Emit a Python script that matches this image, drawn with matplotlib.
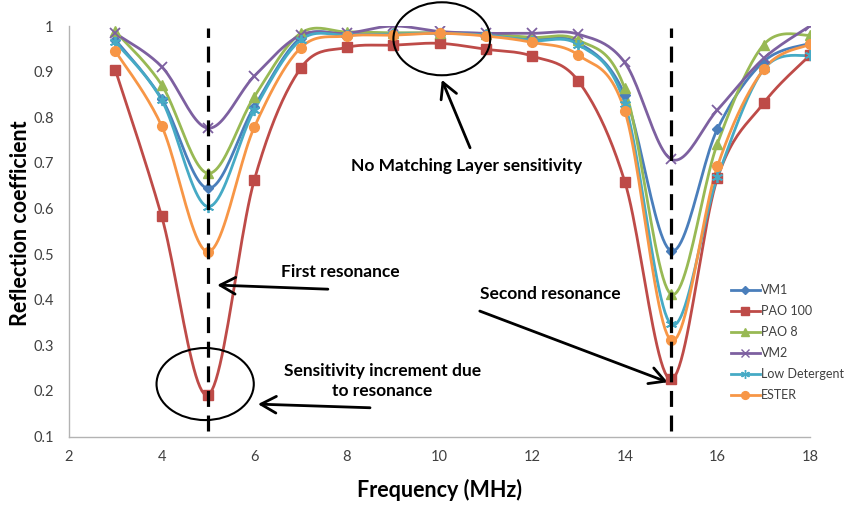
import numpy as np
import matplotlib
matplotlib.use("Agg")
import matplotlib.pyplot as plt
from matplotlib.lines import Line2D
from matplotlib.patches import Ellipse

plt.rcParams['font.family'] = ['Lato', 'DejaVu Sans']

# Measured reflection coefficient vs. frequency for each lubricant
freq_mhz = [3, 4, 5, 6, 7, 8, 9, 10, 11, 12, 13, 14, 15, 16, 17, 18]

vm1      = [0.970, 0.841, 0.644, 0.823, 0.974, 0.982, 0.984, 0.985, 0.983, 0.972, 0.963, 0.849, 0.507, 0.774, 0.922, 0.962]
pao100   = [0.904, 0.583, 0.191, 0.662, 0.907, 0.953, 0.958, 0.962, 0.949, 0.934, 0.879, 0.659, 0.225, 0.666, 0.831, 0.936]
pao8     = [0.988, 0.871, 0.677, 0.845, 0.984, 0.987, 0.985, 0.985, 0.982, 0.975, 0.969, 0.863, 0.412, 0.742, 0.959, 0.980]
vm2      = [0.984, 0.911, 0.776, 0.890, 0.980, 0.984, 1.000, 0.988, 0.984, 0.984, 0.982, 0.920, 0.708, 0.816, 0.929, 1.000]
low_det  = [0.965, 0.838, 0.604, 0.816, 0.969, 0.980, 0.982, 0.984, 0.980, 0.968, 0.959, 0.830, 0.346, 0.668, 0.905, 0.936]
ester    = [0.945, 0.781, 0.505, 0.778, 0.952, 0.978, 0.980, 0.984, 0.978, 0.964, 0.936, 0.814, 0.311, 0.692, 0.905, 0.960]

series_names = ["VM1", "PAO 100", "PAO 8", "VM2", "Low Detergent", "ESTER"]
series_values = [vm1, pao100, pao8, vm2, low_det, ester]

x_ticks = [2, 4, 6, 8, 10, 12, 14, 16, 18]
y_ticks = [0.1, 0.2, 0.3, 0.4, 0.5, 0.6, 0.7, 0.8, 0.9, 1.0]
y_tick_labels = ["0.1", "0.2", "0.3", "0.4", "0.5", "0.6", "0.7", "0.8", "0.9", "1"]

resonances = [5, 15]

colors = ["#4A7EBB", "#BE4B48", "#98B954", "#7D60A0", "#46AAC5", "#F79646"]
markers = ["D", "s", "^", "x", (6, 2, 0), "o"]
msizes = [5.5, 7, 7, 7.5, 8, 7]


def smooth_curve(xs, ys, n=24):
    """Cubic Bezier smoothing through every point (Catmull-Rom tangents)."""
    p = np.column_stack([xs, ys]).astype(float)
    p = np.vstack([p[0], p, p[-1]])
    t = np.linspace(0, 1, n)[:, None]
    parts = []
    for i in range(1, len(p) - 2):
        p0, p1, p2, p3 = p[i - 1], p[i], p[i + 1], p[i + 2]
        c1 = p1 + (p2 - p0) / 6.0
        c2 = p2 - (p3 - p1) / 6.0
        seg = ((1 - t) ** 3) * p1 + 3 * ((1 - t) ** 2) * t * c1 \
            + 3 * (1 - t) * t ** 2 * c2 + t ** 3 * p2
        parts.append(seg if i == 1 else seg[1:])
    return np.vstack(parts)


fig = plt.figure(figsize=(8.46, 5.05), dpi=100)
ax = fig.add_axes([69 / 846, 1 - 436.5 / 505, (810 - 69) / 846, (436.5 - 26) / 505])

handles = []
for name, vals, c, m, ms in zip(series_names, series_values, colors, markers, msizes):
    curve = smooth_curve(freq_mhz, vals)
    ax.plot(curve[:, 0], curve[:, 1], color=c, lw=2.0, solid_capstyle='round', zorder=3)
    ax.plot(freq_mhz, vals, ls='none', marker=m, ms=ms, color=c, mfc=c, mec=c,
            mew=1.3 if m in ("x",) or isinstance(m, tuple) else 1.0, zorder=4)
    handles.append(Line2D([], [], color=c, lw=2.0, marker=m, ms=ms * 0.8, mfc=c, mec=c,
                          mew=1.0))

# Resonance markers
for fr in resonances:
    ax.plot([fr, fr], [0.113, 0.996], color='black', lw=2.3, dashes=(5, 2.7),
            zorder=5, clip_on=False)

ax.set_xlim(2, 18)
ax.set_ylim(0.1, 1.0)
ax.set_xticks(x_ticks)
ax.set_xticklabels([str(v) for v in x_ticks])
ax.set_yticks(y_ticks)
ax.set_yticklabels(y_tick_labels)
ax.tick_params(axis='both', length=0, labelsize=10.5, labelcolor='#404040')
ax.tick_params(axis='y', pad=11)
ax.tick_params(axis='x', pad=10)
for s in ("top", "right"):
    ax.spines[s].set_visible(False)
for s in ("left", "bottom"):
    ax.spines[s].set_color('#B3B3B3')
    ax.spines[s].set_linewidth(1.0)

ax.set_xlabel("Frequency (MHz)", fontsize=15.5, fontweight='bold', va='center')
ax.set_ylabel("Reflection coefficient", fontsize=15.5, fontweight='bold', va='center')
ax.xaxis.set_label_coords(0.5, -0.130)
ax.yaxis.set_label_coords(-0.066, 0.52)

# Annotations
ann_kw = dict(fontsize=12.5, fontweight='bold', ha='center', va='center', color='black')
arrow_kw = dict(arrowstyle='->,head_length=0.55,head_width=0.3', color='black', lw=2.0,
                mutation_scale=20, shrinkA=0, shrinkB=0)

ax.add_patch(Ellipse((4.94, 0.215), 2.1, 0.158, fill=False, ec='black', lw=1.5,
                     zorder=6, clip_on=False))
ax.add_patch(Ellipse((10.05, 0.972), 2.09, 0.16, fill=False, ec='black', lw=1.5,
                     zorder=6, clip_on=False))

ax.text(10.59, 0.693, "No Matching Layer sensitivity", **ann_kw)
ax.annotate("", xy=(10.05, 0.882), xytext=(10.66, 0.733), arrowprops=arrow_kw)

ax.text(7.85, 0.461, "First resonance", **ann_kw)
ax.annotate("", xy=(5.20, 0.432), xytext=(7.59, 0.423), arrowprops=arrow_kw)

ax.text(12.39, 0.412, "Second resonance", **ann_kw)
ax.annotate("", xy=(14.93, 0.219), xytext=(10.87, 0.375), arrowprops=arrow_kw)

ax.text(8.76, 0.222, "Sensitivity increment due\nto resonance", linespacing=1.3, **ann_kw)
ax.annotate("", xy=(6.08, 0.171), xytext=(8.50, 0.163), arrowprops=arrow_kw)

fig.legend(handles, series_names, loc='upper left', bbox_to_anchor=(731 / 846, 1 - 284 / 505),
           frameon=False, fontsize=9, handlelength=2.3, handletextpad=0.1,
           labelspacing=0.72, borderpad=0, borderaxespad=0, labelcolor='#404040')

fig.savefig("out.png", dpi=100)
